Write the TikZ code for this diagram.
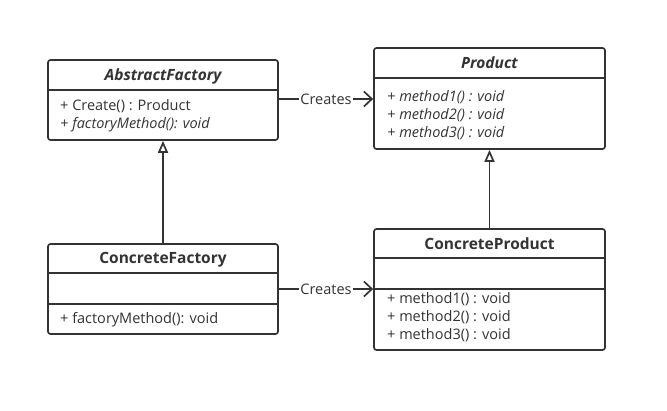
\documentclass[tikz,border=0pt]{standalone}
\usepackage{fontspec}
\setmainfont{Open Sans}
\usetikzlibrary{arrows.meta}
\definecolor{ink}{HTML}{333333}
\tikzset{
  umlbox/.style={draw=ink, line width=1.7pt, rounded corners=2.5pt, fill=white, inner sep=0pt},
  divider/.style={draw=ink, line width=1.7pt},
  title/.style={font=\fontsize{15.5}{18}\selectfont\bfseries\itshape, text=ink},
  ctitle/.style={font=\fontsize{15.5}{18}\selectfont\bfseries, text=ink},
  member/.style={font=\fontsize{14.5}{17}\selectfont, text=ink, anchor=west, inner sep=0pt},
  imember/.style={member, font=\fontsize{14.5}{17}\selectfont\itshape},
  assoc/.style={draw=ink, line width=1.7pt, -{Straight Barb[length=8pt,width=15pt,line width=1.7pt]}},
  inherit/.style={draw=ink, line width=1.7pt, -{Triangle[open, length=12pt, width=10pt, line width=1.7pt, fill=white]}},
  lbl/.style={font=\fontsize{14.5}{17}\selectfont, text=ink, fill=white, inner sep=1pt}
}
\begin{document}
\begin{tikzpicture}[x=1pt,y=-1pt]
\useasboundingbox (0,0) rectangle (667,411);
% AbstractFactory
\node[umlbox, minimum width=230pt, minimum height=80pt] (af) at (163,100) {};
\draw[divider] (af.west |- 0,90) -- (af.east |- 0,90);
\node[title] (aft) at (163,76) {AbstractFactory};
\node[member] (afm1) at (60,106) {+ Create() : Product};
\node[imember] (afm2) at (60,125) {+ factoryMethod(): void};
% Product
\node[umlbox, minimum width=231pt, minimum height=101pt] (p) at (489.5,98.5) {};
\draw[divider] (p.west |- 0,78) -- (p.east |- 0,78);
\node[title] (pt) at (489.5,63) {Product};
\node[imember] (pm1) at (387,97) {+ method1() : void};
\node[imember] (pm2) at (387,115) {+ method2() : void};
\node[imember] (pm3) at (387,133) {+ method3() : void};
% ConcreteFactory
\node[umlbox, minimum width=230pt, minimum height=90pt] (cf) at (163,289) {};
\draw[divider] (cf.west |- 0,273) -- (cf.east |- 0,273);
\draw[divider] (cf.west |- 0,304) -- (cf.east |- 0,304);
\node[ctitle] (cft) at (163,260) {ConcreteFactory};
\node[member] (cfm1) at (60,320) {+ factoryMethod(): void};
% ConcreteProduct
\node[umlbox, minimum width=231pt, minimum height=121pt] (cp) at (489.5,289.5) {};
\draw[divider] (cp.west |- 0,258) -- (cp.east |- 0,258);
\draw[divider] (cp.west |- 0,289) -- (cp.east |- 0,289);
\node[ctitle] (cpt) at (489.5,244) {ConcreteProduct};
\node[member] (cpm1) at (387,299) {+ method1() : void};
\node[member] (cpm2) at (387,317) {+ method2() : void};
\node[member] (cpm3) at (387,335) {+ method3() : void};
% connectors
\draw[assoc] (af.east |- 0,99) -- node[lbl] {Creates} (p.west |- 0,99);
\draw[assoc] (cf.east) -- node[lbl] {Creates} (cf.east -| cp.west);
\draw[inherit] (cf.north) -- (af.south);
\draw[inherit] (cp.north) -- (p.south);
\end{tikzpicture}
\end{document}
